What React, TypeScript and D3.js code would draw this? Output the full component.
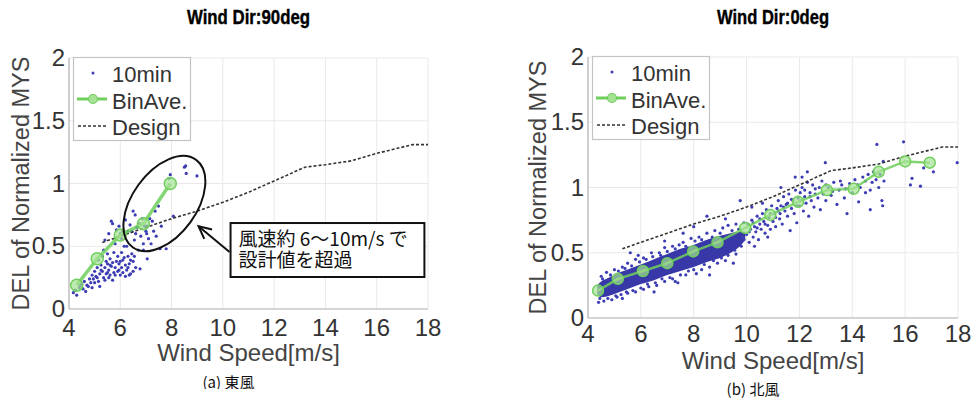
import React from 'react';
import * as d3 from 'd3';

// ---------- data ----------
const xTicks = [4, 6, 8, 10, 12, 14, 16, 18];
const yTicks = [0, 0.5, 1, 1.5, 2];
const yTickLabels = ['0', '0.5', '1', '1.5', '2'];

const designX = [5.3, 6, 7, 8, 9, 10, 11, 12, 13.2, 14, 15, 16, 17, 17.4, 18];
const designY = [0.53, 0.58, 0.65, 0.72, 0.78, 0.85, 0.93, 1.02, 1.13, 1.15, 1.18, 1.24, 1.29, 1.31, 1.31];

const eastBinX = [4.3, 5.1, 6.0, 6.9, 7.95];
const eastBinY = [0.19, 0.4, 0.59, 0.68, 1.0];

const northBinX = [4.38, 5.13, 6.08, 7.0, 7.98, 8.9, 9.95, 10.9, 11.95, 13.04, 14.05, 15.0, 16.0, 16.93];
const northBinY = [0.21, 0.3, 0.36, 0.42, 0.51, 0.58, 0.69, 0.79, 0.89, 0.98, 0.99, 1.12, 1.2, 1.19];

const eastScatter: [number, number][] = [
  [4.17, 0.13], [4.25, 0.15], [4.4, 0.17], [4.5, 0.2], [4.6, 0.22], [4.55, 0.16], [4.7, 0.19], [4.75, 0.18],
  [4.8, 0.24], [4.85, 0.21], [4.9, 0.27], [4.95, 0.24], [5.0, 0.3], [5.05, 0.26], [5.1, 0.33], [5.15, 0.39],
  [5.15, 0.22], [5.2, 0.28], [5.25, 0.35], [5.3, 0.3], [5.3, 0.42], [5.35, 0.47], [5.35, 0.25], [5.4, 0.33],
  [5.45, 0.38], [5.45, 0.28], [5.5, 0.36], [5.5, 0.44], [5.55, 0.31], [5.6, 0.4], [5.6, 0.27], [5.65, 0.34],
  [5.65, 0.7], [5.7, 0.37], [5.7, 0.68], [5.75, 0.45], [5.75, 0.29], [5.8, 0.33], [5.8, 0.52], [5.85, 0.63],
  [5.85, 0.38], [5.9, 0.3], [5.9, 0.42], [5.95, 0.36], [6.0, 0.6], [6.0, 0.27], [6.05, 0.45], [6.05, 0.33],
  [6.1, 0.62], [6.1, 0.39], [6.15, 0.5], [6.2, 0.35], [6.2, 0.71], [6.25, 0.5], [6.25, 0.31], [6.3, 0.62],
  [6.3, 0.42], [6.35, 0.36], [6.38, 0.67], [6.4, 0.28], [6.45, 0.62], [6.45, 0.44], [6.5, 0.78], [6.5, 0.38],
  [6.55, 0.55], [6.58, 0.75], [6.6, 0.33], [6.65, 0.65], [6.7, 0.47], [6.75, 0.68], [6.77, 0.32], [6.8, 0.58],
  [6.85, 0.72], [6.9, 0.47], [6.95, 0.66], [7.0, 0.62], [7.03, 0.6], [7.05, 0.4], [7.1, 0.56], [7.15, 0.72],
  [7.2, 0.52], [7.3, 0.62], [7.36, 0.78], [7.4, 0.58], [7.49, 0.82], [7.55, 0.48], [7.6, 0.66], [7.79, 0.48],
  [7.9, 1.04], [7.95, 1.07], [8.07, 0.74], [8.5, 1.13], [8.55, 1.14], [8.57, 1.08], [8.99, 1.06],
  [4.3, 0.11], [4.45, 0.19], [4.65, 0.14], [4.9, 0.17], [5.0, 0.21], [5.1, 0.25], [5.2, 0.18], [5.25, 0.31],
  [5.4, 0.23], [5.5, 0.29], [5.55, 0.25], [5.6, 0.35], [5.7, 0.23], [5.8, 0.27], [5.95, 0.31], [6.0, 0.38],
  [6.1, 0.29], [6.15, 0.41], [6.2, 0.26], [6.3, 0.33], [6.35, 0.27], [6.4, 0.39], [6.5, 0.3], [6.55, 0.42],
  [5.4, 0.55], [5.55, 0.6], [5.95, 0.66], [6.05, 0.56], [6.6, 0.6], [7.05, 0.66], [7.25, 0.7], [6.9, 0.52],
];

// dense core of the north-wind cloud: [x, lower, upper]
const northDenseBand: [number, number, number][] = [
  [4.35, 0.18, 0.25], [4.5, 0.16, 0.28], [4.8, 0.17, 0.31], [5.2, 0.2, 0.35], [5.6, 0.23, 0.38],
  [6.0, 0.26, 0.41], [6.5, 0.29, 0.45], [7.0, 0.33, 0.49], [7.5, 0.36, 0.53], [8.0, 0.39, 0.56],
  [8.5, 0.43, 0.6], [9.0, 0.46, 0.63], [9.4, 0.5, 0.65], [9.75, 0.55, 0.66], [9.95, 0.6, 0.66],
];

const northScatter: [number, number][] = [
  [4.4, 0.12], [4.6, 0.13], [4.9, 0.14], [5.1, 0.16], [5.3, 0.15], [5.5, 0.19], [5.8, 0.2], [6.1, 0.22],
  [6.3, 0.24], [6.6, 0.25], [6.9, 0.28], [7.2, 0.3], [7.4, 0.27], [7.7, 0.33], [8.1, 0.34], [8.3, 0.37],
  [8.6, 0.39], [8.9, 0.42], [9.2, 0.44], [9.6, 0.49],
  [4.5, 0.32], [4.7, 0.35], [5.0, 0.37], [5.3, 0.39], [5.5, 0.42], [5.8, 0.45], [6.1, 0.46], [6.4, 0.5],
  [6.7, 0.5], [6.9, 0.54], [7.2, 0.55], [7.6, 0.58], [7.9, 0.61], [8.2, 0.62], [8.5, 0.65], [8.8, 0.67],
  [9.1, 0.69], [9.3, 0.71], [9.6, 0.72], [9.9, 0.73], [7.6, 0.65], [8.0, 0.7], [5.9, 0.48], [6.9, 0.59],
  [5.6, 0.5], [7.3, 0.28], [6.5, 0.2], [8.6, 0.33], [9.5, 0.42], [8.5, 0.78], [9.2, 0.76], [9.76, 0.9],
  [4.45, 0.15], [4.55, 0.3], [4.75, 0.15], [4.85, 0.33], [5.05, 0.17], [5.15, 0.36], [5.25, 0.18], [5.4, 0.38],
  [5.45, 0.2], [5.65, 0.4], [5.7, 0.21], [5.95, 0.43], [6.0, 0.23], [6.2, 0.45], [6.25, 0.26], [6.45, 0.47],
  [6.55, 0.27], [6.75, 0.48], [6.8, 0.3], [7.0, 0.51], [7.1, 0.31], [7.3, 0.53], [7.5, 0.33], [7.45, 0.56],
  [7.7, 0.55], [7.8, 0.36], [8.0, 0.37], [8.05, 0.59], [8.3, 0.6], [8.4, 0.41], [8.7, 0.62], [8.75, 0.44],
  [9.0, 0.65], [9.05, 0.46], [9.3, 0.48], [9.45, 0.67], [9.55, 0.52], [9.7, 0.68], [9.8, 0.55], [9.85, 0.62],
  [9.9, 0.6], [10.0, 0.64], [10.05, 0.72], [10.1, 0.58], [10.15, 0.68], [10.2, 0.75], [10.25, 0.62], [10.3, 0.7],
  [10.35, 0.66], [10.4, 0.78], [10.45, 0.6], [10.5, 0.72], [10.55, 0.68], [10.6, 0.8], [10.65, 0.74], [10.7, 0.65],
  [10.75, 0.83], [10.8, 0.71], [10.85, 0.77], [10.9, 0.68], [10.95, 0.86], [11.0, 0.74], [11.05, 0.8], [11.1, 0.7],
  [11.15, 0.84], [11.2, 0.9], [11.25, 0.76], [11.27, 0.8], [11.3, 0.86], [11.35, 0.72], [11.4, 0.93], [11.45, 0.82],
  [11.5, 0.87], [11.55, 0.78], [11.6, 0.95], [11.65, 0.67], [11.7, 0.84], [11.75, 0.9], [11.8, 0.8], [11.84, 1.08],
  [11.85, 0.98], [11.9, 0.73], [11.95, 0.92], [12.0, 0.86], [12.03, 0.96], [12.1, 1.0], [12.15, 0.82], [12.2, 0.93],
  [12.25, 0.88], [12.3, 1.04], [12.35, 0.78], [12.4, 0.96], [12.45, 0.9], [12.5, 1.02], [12.55, 0.85], [12.6, 0.99],
  [12.7, 0.92], [12.79, 0.83], [12.85, 1.05], [12.9, 0.95], [12.98, 1.19], [13.0, 0.9], [13.1, 1.0], [13.2, 0.94],
  [13.3, 1.04], [13.42, 0.87], [13.5, 0.98], [13.6, 1.02], [13.7, 0.92], [13.8, 0.8], [13.9, 1.03], [14.0, 0.96],
  [14.1, 1.06], [14.24, 0.89], [14.3, 1.0], [14.4, 1.08], [14.5, 0.96], [14.6, 1.1], [14.68, 0.98], [14.68, 0.83],
  [14.75, 1.04], [14.8, 1.12], [14.9, 1.06], [14.93, 1.33], [15.0, 1.0], [15.05, 1.1], [15.12, 0.9], [15.15, 0.86],
  [15.17, 1.2], [15.2, 1.05], [15.94, 1.35], [16.2, 1.02], [16.26, 1.07], [16.58, 1.01], [16.7, 1.15], [17.07, 1.12],
  [17.97, 1.19], [10.3, 0.55], [10.8, 0.62], [10.2, 0.85], [10.6, 0.88], [11.3, 1.0], [12.3, 1.12], [12.1, 1.08],
  [10.1, 0.66], [10.25, 0.73], [10.4, 0.69], [10.5, 0.76], [10.7, 0.72], [10.9, 0.8], [11.1, 0.77], [11.2, 0.82],
  [11.4, 0.85], [11.55, 0.88], [11.7, 0.91], [11.9, 0.86], [12.05, 0.9], [12.2, 0.98], [12.4, 0.93], [12.6, 0.95],
  [12.75, 1.0], [13.0, 1.02], [13.25, 0.97], [13.55, 1.05], [13.75, 0.99], [14.2, 1.02], [14.5, 1.05], [14.85, 1.1],
];

const legendLabels = ['10min', 'BinAve.', 'Design'];
const annotationLines = ['風速約 6〜10m/s で', '設計値を超過'];

// ---------- styles ----------
const DOT = '#3c3cb4';
const BAND = '#3838a8';
const GREEN = '#6fcf5c';
const GREEN_FILL = '#a6e294';
const FONT = '"Liberation Sans", Arial, sans-serif';
const CJK = '"Noto Sans CJK JP", sans-serif';

type PanelProps = {
  left: number; right: number; top: number; bottom: number;
  title: string; titleWidth: number; caption: string; captionY: number; captionClip: number;
  scatter: [number, number][]; band?: [number, number, number][];
  binX: number[]; binY: number[]; binWidth: number; binR: number;
  xLabelY: number; xTitleY: number; yTitleX: number; id: string;
  children?: (x: d3.ScaleLinear<number, number>, y: d3.ScaleLinear<number, number>) => React.ReactNode;
};

function Panel(p: PanelProps) {
  const x = d3.scaleLinear().domain([4, 18]).range([p.left, p.right]);
  const y = d3.scaleLinear().domain([0, 2]).range([p.bottom, p.top]);
  const designPath = d3.line<number>().x((d) => x(d)).y((_, i) => y(designY[i]))(designX) || '';
  const binPath = d3.line<number>().x((d) => x(d)).y((_, i) => y(p.binY[i]))(p.binX) || '';
  const bandPath = p.band
    ? d3.area<[number, number, number]>().x((d) => x(d[0])).y0((d) => y(d[1])).y1((d) => y(d[2])).curve(d3.curveCatmullRom)(p.band) || ''
    : '';
  const cx = (p.left + p.right) / 2;
  const cy = (p.top + p.bottom) / 2;
  const lx = p.left;
  const lt = p.top;
  return (
    <g>
      <text x={cx} y={24} textAnchor="middle" fontFamily={FONT} fontWeight="bold" fontSize={21}
        textLength={p.titleWidth} lengthAdjust="spacingAndGlyphs" fill="#000" stroke="#000" strokeWidth={0.4}>{p.title}</text>
      {xTicks.map((t) => (
        <line key={'gx' + t} x1={x(t)} x2={x(t)} y1={y(0)} y2={y(2)} stroke="#e9e9e9" strokeWidth={1} />
      ))}
      {yTicks.map((t) => (
        <line key={'gy' + t} x1={x(4)} x2={x(18)} y1={y(t)} y2={y(t)} stroke="#e9e9e9" strokeWidth={1} />
      ))}
      <line x1={x(4)} x2={x(4)} y1={y(0)} y2={y(2)} stroke="#b5b5b5" strokeWidth={1.2} />
      <line x1={x(4)} x2={x(18)} y1={y(0)} y2={y(0)} stroke="#b5b5b5" strokeWidth={1.2} />
      {xTicks.map((t) => (
        <text key={'tx' + t} x={x(t)} y={p.xLabelY} textAnchor="middle" fontFamily={FONT} fontSize={24} fill="#333">{t}</text>
      ))}
      {yTicks.map((t, i) => (
        <text key={'ty' + t} x={x(4) - 4} y={y(t) + 8} textAnchor="end" fontFamily={FONT} fontSize={24} fill="#333">{yTickLabels[i]}</text>
      ))}
      <text x={cx} y={p.xTitleY} textAnchor="middle" fontFamily={FONT} fontSize={24} fill="#444">Wind Speed[m/s]</text>
      <text transform={`translate(${p.yTitleX},${cy}) rotate(-90)`} textAnchor="middle" dominantBaseline="central"
        fontFamily={FONT} fontSize={23.5} fill="#444">DEL of Normalized MYS</text>

      {bandPath && <path d={bandPath} fill={BAND} />}
      {p.scatter.map((d, i) => (
        <circle key={'s' + i} cx={x(d[0])} cy={y(d[1])} r={1.6} fill={DOT} />
      ))}
      <path d={designPath} fill="none" stroke="#333" strokeWidth={1.6} strokeDasharray="3,2" />
      <path d={binPath} fill="none" stroke={GREEN} strokeOpacity={0.85} strokeWidth={p.binWidth} strokeLinejoin="round" />
      {p.binX.map((d, i) => (
        <circle key={'b' + i} cx={x(d)} cy={y(p.binY[i])} r={p.binR} fill={GREEN_FILL} fillOpacity={0.7} stroke={GREEN} strokeWidth={1.5} />
      ))}

      {/* legend */}
      <rect x={lx + 4.5} y={lt - 0.5} width={117} height={83} fill="#fff" stroke="#c4c4c4" strokeWidth={1.2} />
      <circle cx={lx + 24} cy={lt + 15} r={1.5} fill={DOT} />
      <line x1={lx + 8} x2={lx + 38} y1={lt + 41} y2={lt + 41} stroke={GREEN} strokeWidth={3} />
      <circle cx={lx + 24} cy={lt + 41} r={4.5} fill={GREEN_FILL} stroke={GREEN} strokeWidth={1.2} />
      <line x1={lx + 9} x2={lx + 39} y1={lt + 68} y2={lt + 68} stroke="#333" strokeWidth={1.4} strokeDasharray="3,2" />
      {legendLabels.map((l, i) => (
        <text key={l} x={lx + 43} y={lt + 24 + i * 26.5} fontFamily={FONT} fontSize={22} fill="#333">{l}</text>
      ))}

      {p.children && p.children(x, y)}

      <clipPath id={p.id}>
        <rect x={0} y={0} width={972} height={p.captionClip} />
      </clipPath>
      <text x={cx - 20} y={p.captionY} textAnchor="middle" fontFamily={CJK} fontSize={15} fill="#111" clipPath={`url(#${p.id})`}>{p.caption}</text>
    </g>
  );
}

// annotation anchors (data coordinates of the east-wind panel)
const ellipseCenter = [7.72, 0.84];
const arrowTip = [9.05, 0.66];
const boxCorner = [10.3, 0.685];
const boxEnd = [17.86, 0.255];

export default function App() {
  return (
    <svg width={972} height={398} style={{ position: 'absolute', left: 0, top: 0, background: '#fff' }}>
      <rect width={972} height={398} fill="#fff" />
      <Panel id="capA" left={69} right={428} top={58} bottom={309} title="Wind Dir:90deg" titleWidth={123}
        caption="(a) 東風" captionY={388} captionClip={389}
        scatter={eastScatter} binX={eastBinX} binY={eastBinY} binWidth={3.5} binR={6}
        xLabelY={336} xTitleY={361} yTitleX={21}>
        {(x, y) => {
          const ex = x(ellipseCenter[0]);
          const ey = y(ellipseCenter[1]);
          const bx0 = x(boxCorner[0]);
          const by0 = y(boxCorner[1]);
          const bx1 = x(boxEnd[0]);
          const by1 = y(boxEnd[1]);
          const tx = x(arrowTip[0]);
          const ty = y(arrowTip[1]);
          const sx = bx0 - 1;
          const sy = by0 + 29;
          const ang = Math.atan2(sy - ty, sx - tx);
          const hl = 14;
          const ha = 0.45;
          return (
            <g>
              <ellipse cx={ex} cy={ey} rx={54} ry={32} transform={`rotate(-54 ${ex} ${ey})`} fill="none" stroke="#111" strokeWidth={2} />
              <line x1={sx} y1={sy} x2={tx} y2={ty} stroke="#111" strokeWidth={2} />
              <polyline points={`${tx + hl * Math.cos(ang + ha)},${ty + hl * Math.sin(ang + ha)} ${tx},${ty} ${tx + hl * Math.cos(ang - ha)},${ty + hl * Math.sin(ang - ha)}`}
                fill="none" stroke="#111" strokeWidth={2} />
              <rect x={bx0} y={by0} width={bx1 - bx0} height={by1 - by0} fill="#fff" stroke="#111" strokeWidth={2} />
              <text fontFamily={CJK} fontSize={19} fill="#111">
                {annotationLines.map((t, i) => (
                  <tspan key={t} x={bx0 + 8} y={by0 + 23 + i * 21}>{t}</tspan>
                ))}
              </text>
            </g>
          );
        }}
      </Panel>
      <Panel id="capB" left={588} right={958} top={57} bottom={318} title="Wind Dir:0deg" titleWidth={112}
        caption="(b) 北風" captionY={395} captionClip={398}
        scatter={northScatter} band={northDenseBand} binX={northBinX} binY={northBinY} binWidth={2.5} binR={5.5}
        xLabelY={342} xTitleY={369} yTitleX={538} />
    </svg>
  );
}
